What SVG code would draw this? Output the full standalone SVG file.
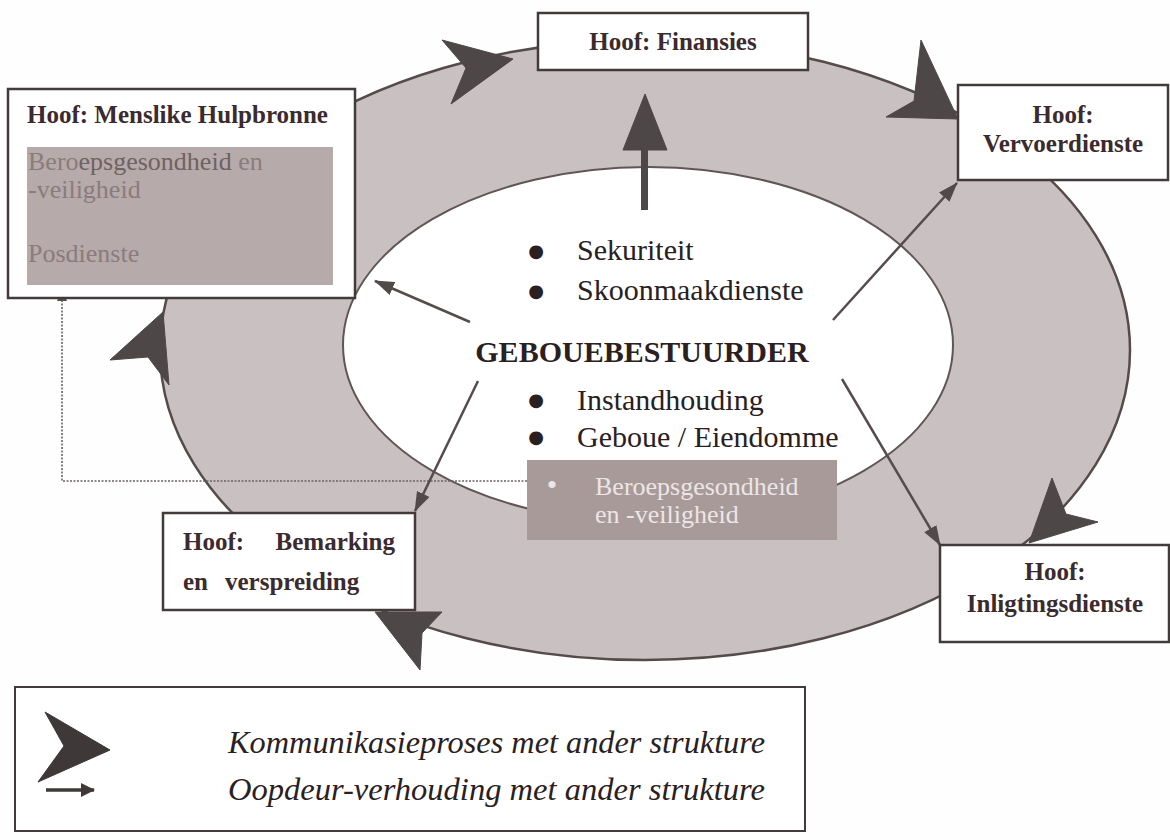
<svg xmlns="http://www.w3.org/2000/svg" width="1170" height="840" viewBox="0 0 1170 840">
  <style>
    .box { fill: #ffffff; stroke: #433b3b; stroke-width: 2.5; }
    .lbl { font-family: "Liberation Serif", "Times New Roman", serif; font-size: 25px; font-weight: bold; fill: #3b2a2e; }
    .mid { font-family: "Liberation Serif", "Times New Roman", serif; font-size: 30px; fill: #2a2022; }
    .dot { font-family: "DejaVu Sans", sans-serif; font-size: 18px; fill: #2a2022; text-anchor: middle; }
    .grey { font-family: "Liberation Serif", "Times New Roman", serif; font-size: 26px; fill: #8a7c7c; }
    .pale { font-family: "Liberation Serif", "Times New Roman", serif; font-size: 26px; fill: #ece6e6; }
    .key { font-family: "Liberation Serif", "Times New Roman", serif; font-size: 31px; font-style: italic; fill: #2a2022; }
    .head { fill: #4e4747; stroke: #4e4747; stroke-width: 1; stroke-linejoin: round; }
    .link { fill: none; stroke: #564c4c; stroke-width: 2.5; }
    .dots { fill: none; stroke: #6a6262; stroke-width: 1.6; stroke-dasharray: 2 1.5; }
  </style>
  <defs>
    <marker id="tip" viewBox="0 0 20 14" refX="19" refY="7" markerWidth="20" markerHeight="14" markerUnits="userSpaceOnUse" orient="auto">
      <path d="M0,0 L20,7 L0,14 Z" fill="#524a4a"/>
    </marker>
    <marker id="tipSmall" viewBox="0 0 12 10" refX="11" refY="5" markerWidth="12" markerHeight="10" markerUnits="userSpaceOnUse" orient="auto">
      <path d="M0,0 L12,5 L0,10 Z" fill="#5a5252"/>
    </marker>
    <marker id="tipKey" viewBox="0 0 14 14" refX="13" refY="7" markerWidth="14" markerHeight="14" markerUnits="userSpaceOnUse" orient="auto">
      <path d="M0,0 L14,7 L0,14 Z" fill="#3e3838"/>
    </marker>
  </defs>

  <rect x="0" y="0" width="1170" height="840" fill="#fefefe"/>

  <!-- outer ring and centre ellipse -->
  <g id="ring">
    <ellipse cx="645" cy="350" rx="485" ry="310" fill="#c9c1c1" stroke="#554b4b" stroke-width="2.5"/>
    <ellipse cx="648" cy="345" rx="305" ry="178" fill="#ffffff" stroke="#605656" stroke-width="2"/>
  </g>

  <!-- connectors -->
  <g id="connectors">
    <!-- dotted link from the lower box back to Posdienste -->
    <path class="dots" d="M527,481 H62 V290" marker-end="url(#tipSmall)"/>
    <!-- open-door relations -->
    <line class="link" x1="470" y1="322" x2="375" y2="281" marker-end="url(#tip)"/>
    <line class="link" x1="833" y1="320" x2="957" y2="183" marker-end="url(#tip)"/>
    <line class="link" x1="842" y1="379" x2="940" y2="545" marker-end="url(#tip)"/>
    <line class="link" x1="478" y1="381" x2="415" y2="511" marker-end="url(#tip)"/>
    <!-- heavy arrow up to finance -->
    <rect x="641" y="146" width="7" height="64" fill="#4e4747"/>
    <polygon class="head" points="623,150 645,94 667,150"/>
    <!-- communication flow heads on the ring -->
    <polygon class="head" points="442,40 513,59 451,104 466,68"/>
    <polygon class="head" points="921,40 958,119 886,117 914,101"/>
    <polygon class="head" points="1098,522 1029,543 1052,478 1066,514"/>
    <polygon class="head" points="442,612 375,612 420,670 422,633"/>
    <polygon class="head" points="110,360 163,312 169,385 148,357"/>
  </g>

  <!-- centre -->
  <g id="gebouebestuurder">
    <text class="dot" x="536" y="257">●</text>
    <text class="mid" x="577" y="260">Sekuriteit</text>
    <text class="dot" x="536" y="297">●</text>
    <text class="mid" x="577" y="300">Skoonmaakdienste</text>
    <text class="mid" x="642" y="362" text-anchor="middle" font-weight="bold">GEBOUEBESTUURDER</text>
    <text class="dot" x="536" y="406">●</text>
    <text class="mid" x="577" y="410">Instandhouding</text>
    <text class="dot" x="536" y="443">●</text>
    <text class="mid" x="577" y="447">Geboue / Eiendomme</text>
  </g>

  <g id="beroepsgesondheid">
    <rect x="527" y="460" width="310" height="80" fill="#a99a9a"/>
    <text class="pale"><tspan x="552" y="495" text-anchor="middle" font-size="30">•</tspan><tspan x="595" y="495">Beroepsgesondheid</tspan></text>
    <text class="pale" x="595" y="523">en -veiligheid</text>
  </g>

  <g id="finansies">
    <rect class="box" x="538" y="13" width="270" height="57"/>
    <text class="lbl" x="673" y="50" text-anchor="middle">Hoof: Finansies</text>
  </g>

  <g id="menslike-hulpbronne">
    <rect class="box" x="8" y="89" width="347" height="209"/>
    <text class="lbl" x="27" y="123">Hoof: Menslike Hulpbronne</text>
    <rect x="27" y="147" width="306" height="138" fill="#b7aaaa"/>
    <text class="grey" x="28" y="170">Bero<tspan fill="#6e6262">epsgesondheid</tspan> en</text>
    <text class="grey" x="28" y="198">-veiligheid</text>
    <text class="grey" x="28" y="262">Posdienste</text>
  </g>

  <g id="vervoerdienste">
    <rect class="box" x="958" y="85" width="210" height="95"/>
    <text class="lbl" x="1063" y="123" text-anchor="middle">Hoof:</text>
    <text class="lbl" x="1063" y="152" text-anchor="middle">Vervoerdienste</text>
  </g>

  <g id="inligtingsdienste">
    <rect class="box" x="940" y="545" width="229" height="97"/>
    <text class="lbl" x="1055" y="580" text-anchor="middle">Hoof:</text>
    <text class="lbl" x="1055" y="612" text-anchor="middle">Inligtingsdienste</text>
  </g>

  <g id="bemarking">
    <rect class="box" x="163" y="513" width="252" height="97"/>
    <text class="lbl" x="183" y="550">Hoof:</text>
    <text class="lbl" x="395" y="550" text-anchor="end">Bemarking</text>
    <text class="lbl" x="183" y="590">en</text>
    <text class="lbl" x="225" y="590">verspreiding</text>
  </g>

  <!-- key -->
  <g id="legend">
    <rect x="15" y="687" width="790" height="144" fill="#ffffff" stroke="#433b3b" stroke-width="2"/>
    <polygon class="head" points="45,712 110,750 38,782 64,746" style="fill:#3e3838;stroke:#3e3838"/>
    <line x1="46" y1="790" x2="94" y2="790" stroke="#3e3838" stroke-width="3.5" marker-end="url(#tipKey)"/>
    <text class="key" x="228" y="753" textLength="537" lengthAdjust="spacingAndGlyphs">Kommunikasieproses met ander strukture</text>
    <text class="key" x="228" y="800" textLength="537" lengthAdjust="spacingAndGlyphs">Oopdeur-verhouding met ander strukture</text>
  </g>
</svg>
